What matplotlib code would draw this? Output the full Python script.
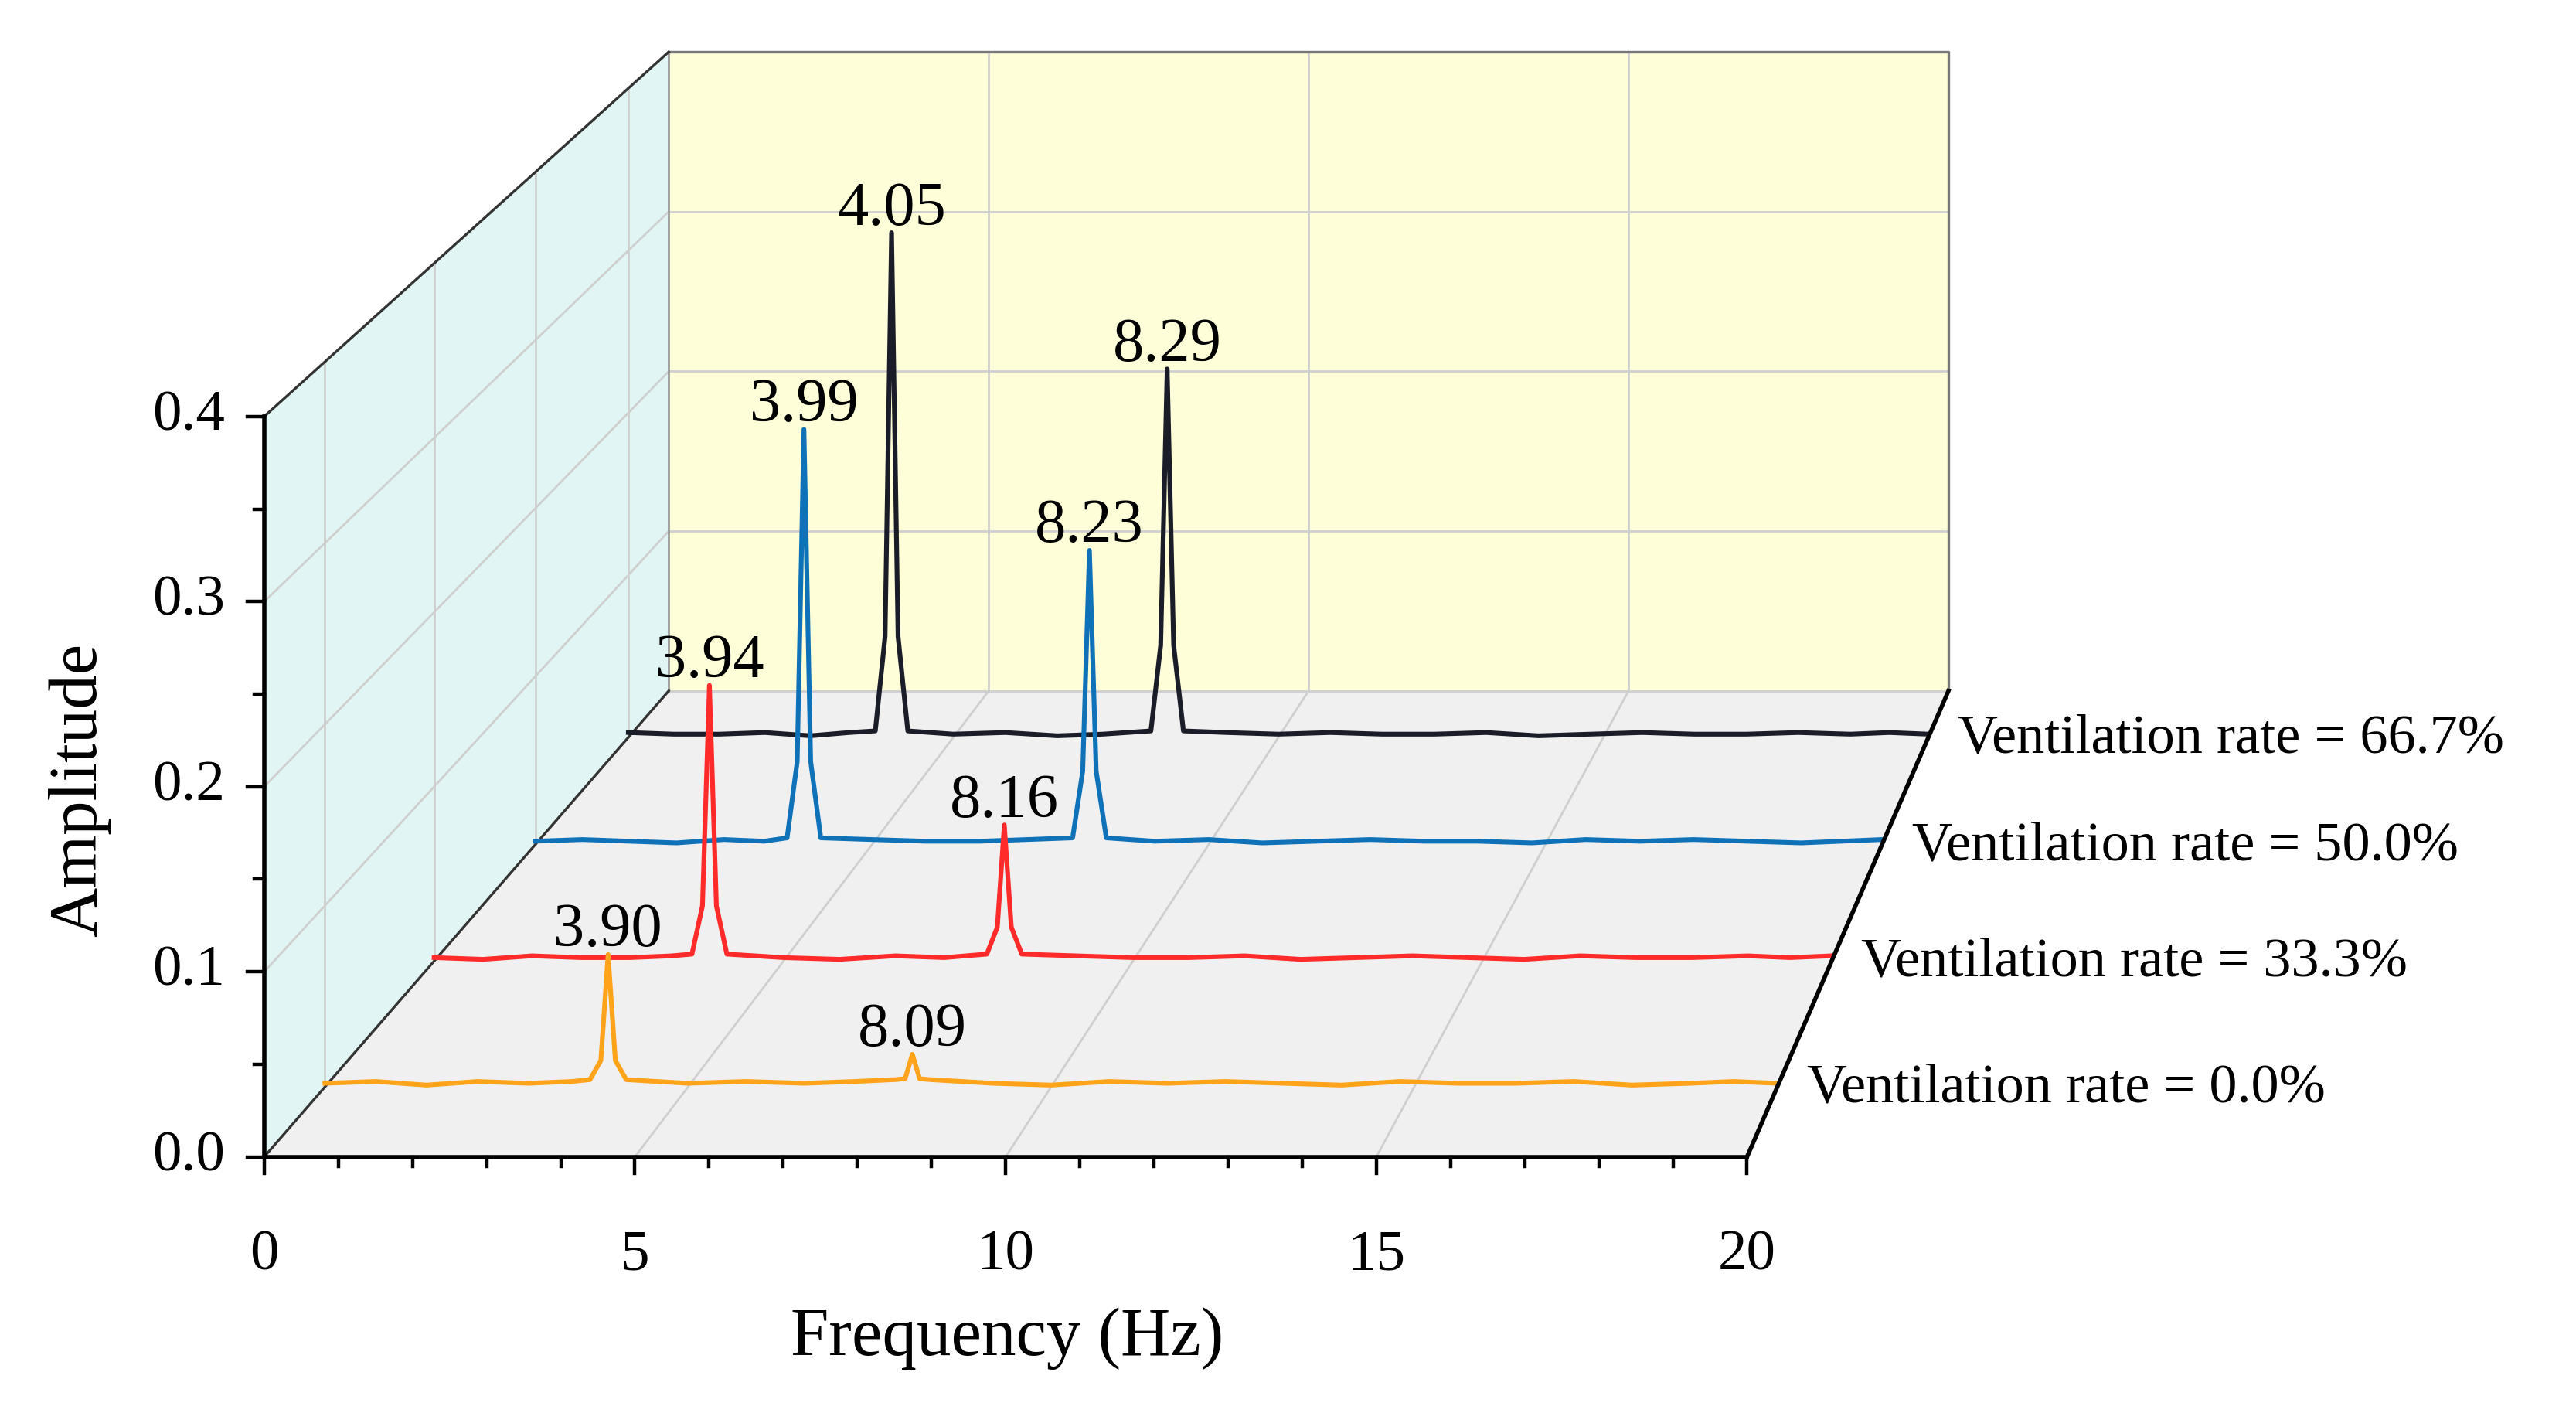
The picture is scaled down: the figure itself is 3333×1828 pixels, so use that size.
import matplotlib
matplotlib.use("Agg")
import matplotlib.pyplot as plt
import numpy as np

plt.rcParams['font.family'] = ['Liberation Serif', 'DejaVu Serif']

# ---- data ----
series_labels = ["Ventilation rate = 0.0%", "Ventilation rate = 33.3%",
                 "Ventilation rate = 50.0%", "Ventilation rate = 66.7%"]
series_colors = ["#ffa31a", "#ff2a2a", "#0f72b8", "#1a1c28"]
series_depth = [0.15, 0.42, 0.67, 0.90]
peak1_freq = [3.90, 3.94, 3.99, 4.05]
peak1_amp = [0.073, 0.158, 0.247, 0.311]
peak2_freq = [8.09, 8.16, 8.23, 8.29]
peak2_amp = [0.018, 0.078, 0.175, 0.227]
base_freq = [0, 0.7, 1.4, 2.1, 2.8, 3.4, 5.0, 5.8, 6.6, 7.3, 9.2, 10.0, 10.8,
             11.6, 12.4, 13.2, 14.0, 14.8, 15.6, 16.4, 17.2, 18.0, 18.8, 19.4, 20]
base_amp = [
    [0.002, 0.003, 0.001, 0.003, 0.002, 0.003, 0.002, 0.003, 0.002, 0.003, 0.002, 0.001, 0.003,
     0.002, 0.003, 0.002, 0.001, 0.003, 0.002, 0.002, 0.003, 0.001, 0.002, 0.003, 0.002],
    [0.002, 0.001, 0.003, 0.002, 0.002, 0.003, 0.002, 0.001, 0.003, 0.002, 0.003, 0.002, 0.002,
     0.003, 0.001, 0.002, 0.003, 0.002, 0.001, 0.003, 0.002, 0.002, 0.003, 0.002, 0.003],
    [0.002, 0.003, 0.002, 0.001, 0.003, 0.002, 0.003, 0.002, 0.002, 0.003, 0.002, 0.003, 0.001,
     0.002, 0.003, 0.002, 0.002, 0.001, 0.003, 0.002, 0.003, 0.002, 0.001, 0.002, 0.003],
    [0.003, 0.002, 0.002, 0.003, 0.001, 0.003, 0.002, 0.003, 0.001, 0.002, 0.003, 0.002, 0.003,
     0.002, 0.002, 0.003, 0.001, 0.002, 0.003, 0.002, 0.002, 0.003, 0.002, 0.003, 0.002],
]
x_ticks = [0, 5, 10, 15, 20]
y_ticks = [0.0, 0.1, 0.2, 0.3, 0.4]

# ---- projection helper (pseudo 3D in a pixel-space axes) ----
def proj(f, a, d):
    f = np.asarray(f, float); a = np.asarray(a, float); d = np.asarray(d, float)
    s = 1 - 0.137 * d
    return 160 + 245 * d + f * 44.9 * s, 700 - 282 * d - a * 1120 * s

fig = plt.figure(figsize=(16.665, 9.14), dpi=200)
ax = fig.add_axes([0, 0, 1, 1])
ax.set_xlim(0, 1560); ax.set_ylim(855, 0); ax.axis('off')

def poly(fs, as_, ds, color, **kw):
    x, y = proj(fs, as_, ds)
    ax.fill(x, y, color=color, lw=0, **kw)

def line(fs, as_, ds, **kw):
    x, y = proj(fs, as_, ds)
    ax.plot(x, y, **kw)

grid = dict(color="#cfcfcf", lw=1.0, zorder=1)
# walls & floor
poly([0, 0, 0, 0], [0, 0.4, 0.4, 0], [0, 0, 1, 1], "#e1f6f4", zorder=0)
poly([0, 20, 20, 0], [0, 0, 0.4, 0.4], [1, 1, 1, 1], "#fefed9", zorder=0)
poly([0, 20, 20, 0], [0, 0, 0, 0], [0, 0, 1, 1], "#f0f0f0", zorder=0)
for v in x_ticks[1:-1]:
    line([v, v], [0, 0.4], [1, 1], **grid)
    line([v, v], [0, 0], [0, 1], **grid)
for v in y_ticks[1:-1]:
    line([0, 20], [v, v], [1, 1], **grid)
    line([0, 0], [v, v], [0, 1], **grid)
for d in series_depth:
    line([0, 0], [0, 0.4], [d, d], **grid)
line([0, 20], [0, 0], [1, 1], **grid)
line([20, 20, 0], [0, 0.4, 0.4], [1, 1, 1], color="#777777", lw=1.2, zorder=1)
line([0, 0], [0, 0.4], [1, 1], color="#999999", lw=1.0, zorder=1)
line([0, 0], [0.4, 0.4], [0, 1], color="#333333", lw=1.2, zorder=2)
# axes
ax_kw = dict(color="black", lw=2.0, zorder=5, solid_capstyle='projecting')
line([0, 20], [0, 0], [0, 0], **ax_kw)
line([0, 0], [0, 0.4], [0, 0], **ax_kw)
line([20, 20], [0, 0], [0, 1], **ax_kw)
line([0, 0], [0, 0], [0, 1], color="#333333", lw=1.2, zorder=2)

for f in range(0, 21):
    x, y = proj(f, 0, 0)
    L = 10 if f % 5 == 0 else 6
    ax.plot([x, x], [y, y + L], color="black", lw=1.6, zorder=5)
for f in x_ticks:
    x, y = proj(f, 0, 0)
    ax.text(x, y + 60, str(f), ha='center', va='center', fontsize=27)
for i in range(9):
    a = i * 0.05
    x, y = proj(0, a, 0)
    L = 10 if i % 2 == 0 else 6
    ax.plot([x - L, x], [y, y], color="black", lw=1.6, zorder=5)
for a in y_ticks:
    x, y = proj(0, a, 0)
    ax.text(x - 24, y, f"{a:.1f}", ha='right', va='center', fontsize=27)

ax.text(610, 810, "Frequency (Hz)", ha='center', va='center', fontsize=32)
ax.text(48, 478, "Amplitude", ha='center', va='center', rotation=90, fontsize=32)

# spectra (back to front)
for i in reversed(range(4)):
    p1, a1, p2, a2 = peak1_freq[i], peak1_amp[i], peak2_freq[i], peak2_amp[i]
    fr = list(base_freq) + [p1 - 0.25, p1 - 0.1, p1, p1 + 0.1, p1 + 0.25,
                            p2 - 0.25, p2 - 0.1, p2, p2 + 0.1, p2 + 0.25]
    am = list(base_amp[i]) + [0.004, 0.2 * a1, a1, 0.2 * a1, 0.004,
                              0.004, 0.25 * a2, a2, 0.25 * a2, 0.004]
    order = np.argsort(fr)
    fr = np.array(fr)[order]; am = np.array(am)[order]
    d = series_depth[i]
    x, y = proj(fr, am, d)
    ax.plot(x, y, color=series_colors[i], lw=2.2, zorder=3 + (3 - i) * 0.01)
    for pf, pa in [(p1, a1), (p2, a2)]:
        px, py = proj(pf, pa, d)
        ax.text(px, py + 3, f"{pf:.2f}", ha='center', va='bottom', fontsize=29, zorder=6)
    ex, ey = proj(20, 0.003, d)
    ax.text(ex + 18, ey + 4, series_labels[i], ha='left', va='center', fontsize=26)

fig.savefig("out.png", dpi=200)
